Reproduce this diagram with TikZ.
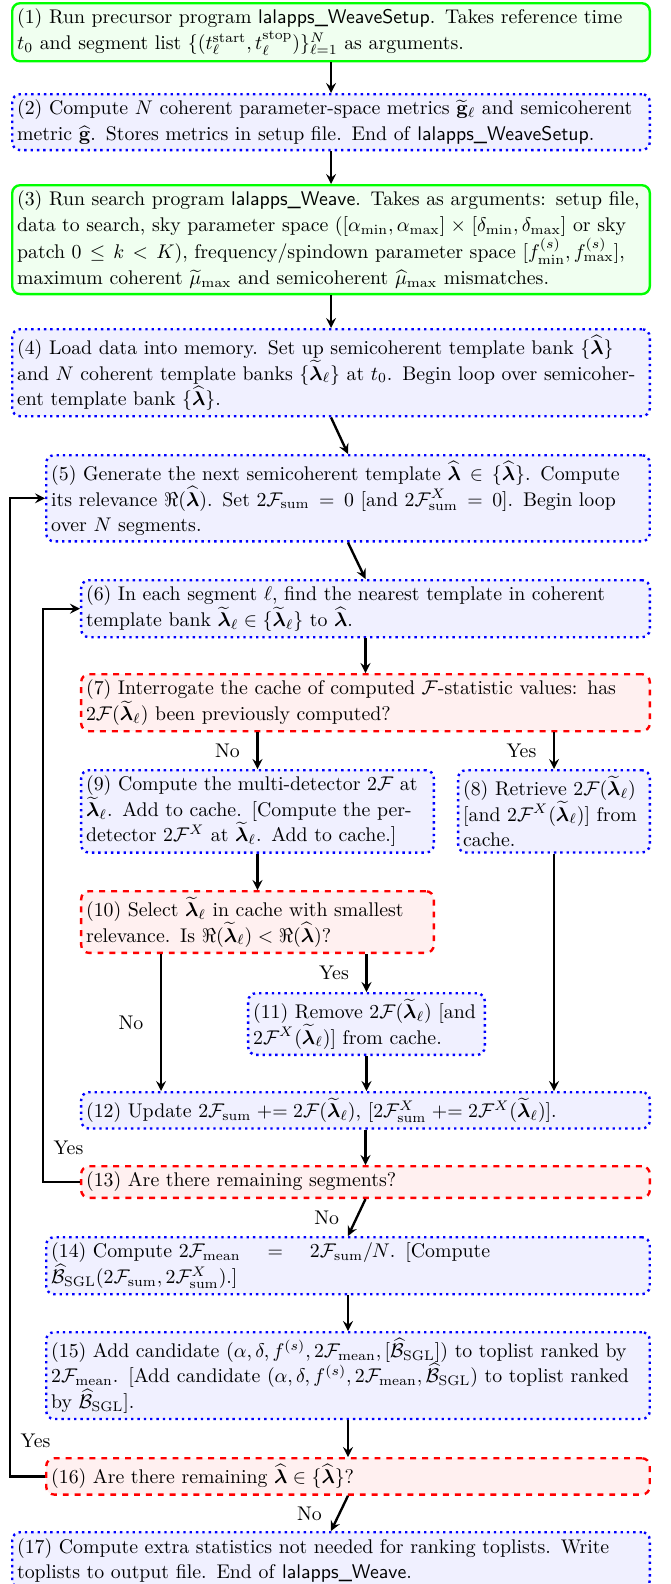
\documentclass[tikz,border=0pt]{standalone}
\usepackage{amsmath,amssymb,bm}
\usetikzlibrary{positioning}

\tikzset{
  boxtext/.style={text width=#1, align=left, rounded corners, very thick,
    inner xsep=2.5pt, inner ysep=3pt, font=\fontsize{10}{12.8}\selectfont},
  runbox/.style={boxtext=#1, draw=green, fill=green!6},
  workbox/.style={boxtext=#1, draw=blue, dotted, fill=blue!6},
  askbox/.style={boxtext=#1, draw=red, dashed, fill=red!6},
  flow/.style={->, >=stealth, very thick},
  lab/.style={midway, left=5pt},
}
\newcommand{\lamhat}{\widehat{\bm\lambda}}
\newcommand{\lamtil}{\widetilde{\bm\lambda}_\ell}
\newcommand{\Fstat}{\mathcal{F}}

\begin{document}
\begin{tikzpicture}[x=0.505pt, y=-0.505pt]
  \useasboundingbox (0,0) rectangle (671,1584);

  % Precursor program
  \node[runbox=317pt, anchor=north] (b1) at (331,2) {(1) Run precursor program \textsf{lalapps\_WeaveSetup}. Takes reference time $t_0$ and segment list $\{(t^{\mathrm{start}}_\ell, t^{\mathrm{stop}}_\ell)\}_{\ell=1}^{N}$ as arguments.};
  \node[workbox=317pt, anchor=north] (b2) at (331,93) {(2) Compute $N$ coherent parameter-space metrics $\widetilde{\mathbf{g}}_\ell$ and semicoherent metric $\widehat{\mathbf{g}}$. Stores metrics in setup file. End of \textsf{lalapps\_WeaveSetup}.};

  % Search program
  \node[runbox=317pt, anchor=north] (b3) at (331,184) {(3) Run search program \textsf{lalapps\_Weave}. Takes as arguments: setup file, data to search, sky parameter space ($[\alpha_{\min}, \alpha_{\max}] \times [\delta_{\min}, \delta_{\max}]$ or sky patch $0 \le k < K$), frequency/spindown parameter space $[f^{(s)}_{\min}, f^{(s)}_{\max}]$, maximum coherent $\widetilde{\mu}_{\max}$ and semicoherent $\widehat{\mu}_{\max}$ mismatches.};
  \node[workbox=317pt, anchor=north] (b4) at (331,328) {(4) Load data into memory. Set up semicoherent template bank $\{\lamhat\}$ and $N$ coherent template banks $\{\lamtil\}$ at $t_0$. Begin loop over semicoherent template bank $\{\lamhat\}$.};
  \node[workbox=299.8pt, anchor=north] (b5) at (348,454) {(5) Generate the next semicoherent template $\lamhat \in \{\lamhat\}$. Compute\linebreak its relevance $\Re(\lamhat)$. Set $2\Fstat_{\mathrm{sum}} = 0$ [and $2\Fstat^X_{\mathrm{sum}} = 0$]. Begin loop\linebreak over $N$ segments.};
  \node[workbox=282.2pt, anchor=north] (b6) at (365.5,579) {(6) In each segment $\ell$, find the nearest template in coherent template bank $\lamtil \in \{\lamtil\}$ to $\lamhat$.};
  \node[askbox=282.2pt, anchor=north] (b7) at (365.5,673) {(7) Interrogate the cache of computed $\Fstat$-statistic values: has $2\Fstat(\lamtil)$ been previously computed?};

  % Cache handling
  \node[workbox=173.1pt, anchor=north] (b9) at (257.5,769) {(9) Compute the multi-detector $2\Fstat$ at $\lamtil$. Add to cache. [Compute the per-detector $2\Fstat^X$ at $\lamtil$. Add to cache.]};
  \node[workbox=91.8pt, anchor=north] (b8) at (554,769) {(8) Retrieve $2\Fstat(\lamtil)$ [and $2\Fstat^X(\lamtil)$] from cache.};
  \node[askbox=173.1pt, anchor=north] (b10) at (257.5,890) {(10) Select $\lamtil$ in cache with smallest relevance. Is $\Re(\lamtil) < \Re(\lamhat)$?};
  \node[workbox=114.5pt, anchor=north] (b11) at (366.5,992) {(11) Remove $2\Fstat(\lamtil)$ [and $2\Fstat^X(\lamtil)$] from cache.};
  \node[workbox=282.2pt, anchor=north] (b12) at (365.5,1091) {(12) Update $2\Fstat_{\mathrm{sum}} \mathrel{+}= 2\Fstat(\lamtil)$, [$2\Fstat^X_{\mathrm{sum}} \mathrel{+}= 2\Fstat^X(\lamtil)$].};
  \node[askbox=282.2pt, anchor=north] (b13) at (365.5,1165) {(13) Are there remaining segments?};

  % Toplists
  \node[workbox=299.8pt, anchor=north] (b14) at (348,1236) {(14) Compute $2\Fstat_{\mathrm{mean}} = 2\Fstat_{\mathrm{sum}}/N$. [Compute\linebreak $\widehat{\mathcal{B}}_{\mathrm{SGL}}(2\Fstat_{\mathrm{sum}}, 2\Fstat^X_{\mathrm{sum}})$.]};
  \node[workbox=299.8pt, anchor=north] (b15) at (348,1331) {(15) Add candidate $(\alpha, \delta, f^{(s)}, 2\Fstat_{\mathrm{mean}}, [\widehat{\mathcal{B}}_{\mathrm{SGL}}])$ to toplist ranked by $2\Fstat_{\mathrm{mean}}$. [Add candidate $(\alpha, \delta, f^{(s)}, 2\Fstat_{\mathrm{mean}}, \widehat{\mathcal{B}}_{\mathrm{SGL}})$ to toplist ranked by $\widehat{\mathcal{B}}_{\mathrm{SGL}}$].};
  \node[askbox=299.8pt, anchor=north] (b16) at (348,1457) {(16) Are there remaining $\lamhat \in \{\lamhat\}$?};
  \node[workbox=317pt, anchor=north] (b17) at (331,1531) {(17) Compute extra statistics not needed for ranking toplists. Write toplists to output file. End of \textsf{lalapps\_Weave}.};

  % Arrows
  \draw[flow] (b1) -- (b2);
  \draw[flow] (b2) -- (b3);
  \draw[flow] (b3) -- (b4);
  \draw[flow] (b4.south) -- (b5.north);
  \draw[flow] (b5.south) -- (b6.north);
  \draw[flow] (b6) -- (b7);
  \draw[flow] (b9.north |- b7.south) -- (b9.north) node[lab] {No};
  \draw[flow] (b8.north |- b7.south) -- (b8.north) node[lab] {Yes};
  \draw[flow] (b9) -- (b10);
  \draw[flow] (b11.north |- b10.south) -- (b11.north) node[lab] {Yes};
  \draw[flow] ([xshift=-48.7pt]b10.south) -- ([xshift=-48.7pt]b10.south |- b12.north) node[lab] {No};
  \draw[flow] (b11.south) -- (b11.south |- b12.north);
  \draw[flow] (b8.south) -- (b8.south |- b12.north);
  \draw[flow] (b12) -- (b13);
  \draw[flow] (b13.south) -- (b14.north) node[lab] {No};
  \draw[flow] (b14) -- (b15);
  \draw[flow] (b15) -- (b16);
  \draw[flow] (b16.south) -- (b17.north) node[lab] {No};

  % Loops back
  \draw[flow] (b13.west) -- ++(-37,0) |- (b6.west) node[pos=0.03, right=1.4pt] {Yes};
  \draw[flow] (b16.west) -- ++(-35,0) |- (b5.west) node[pos=0.018, right=1.4pt] {Yes};
\end{tikzpicture}
\end{document}
